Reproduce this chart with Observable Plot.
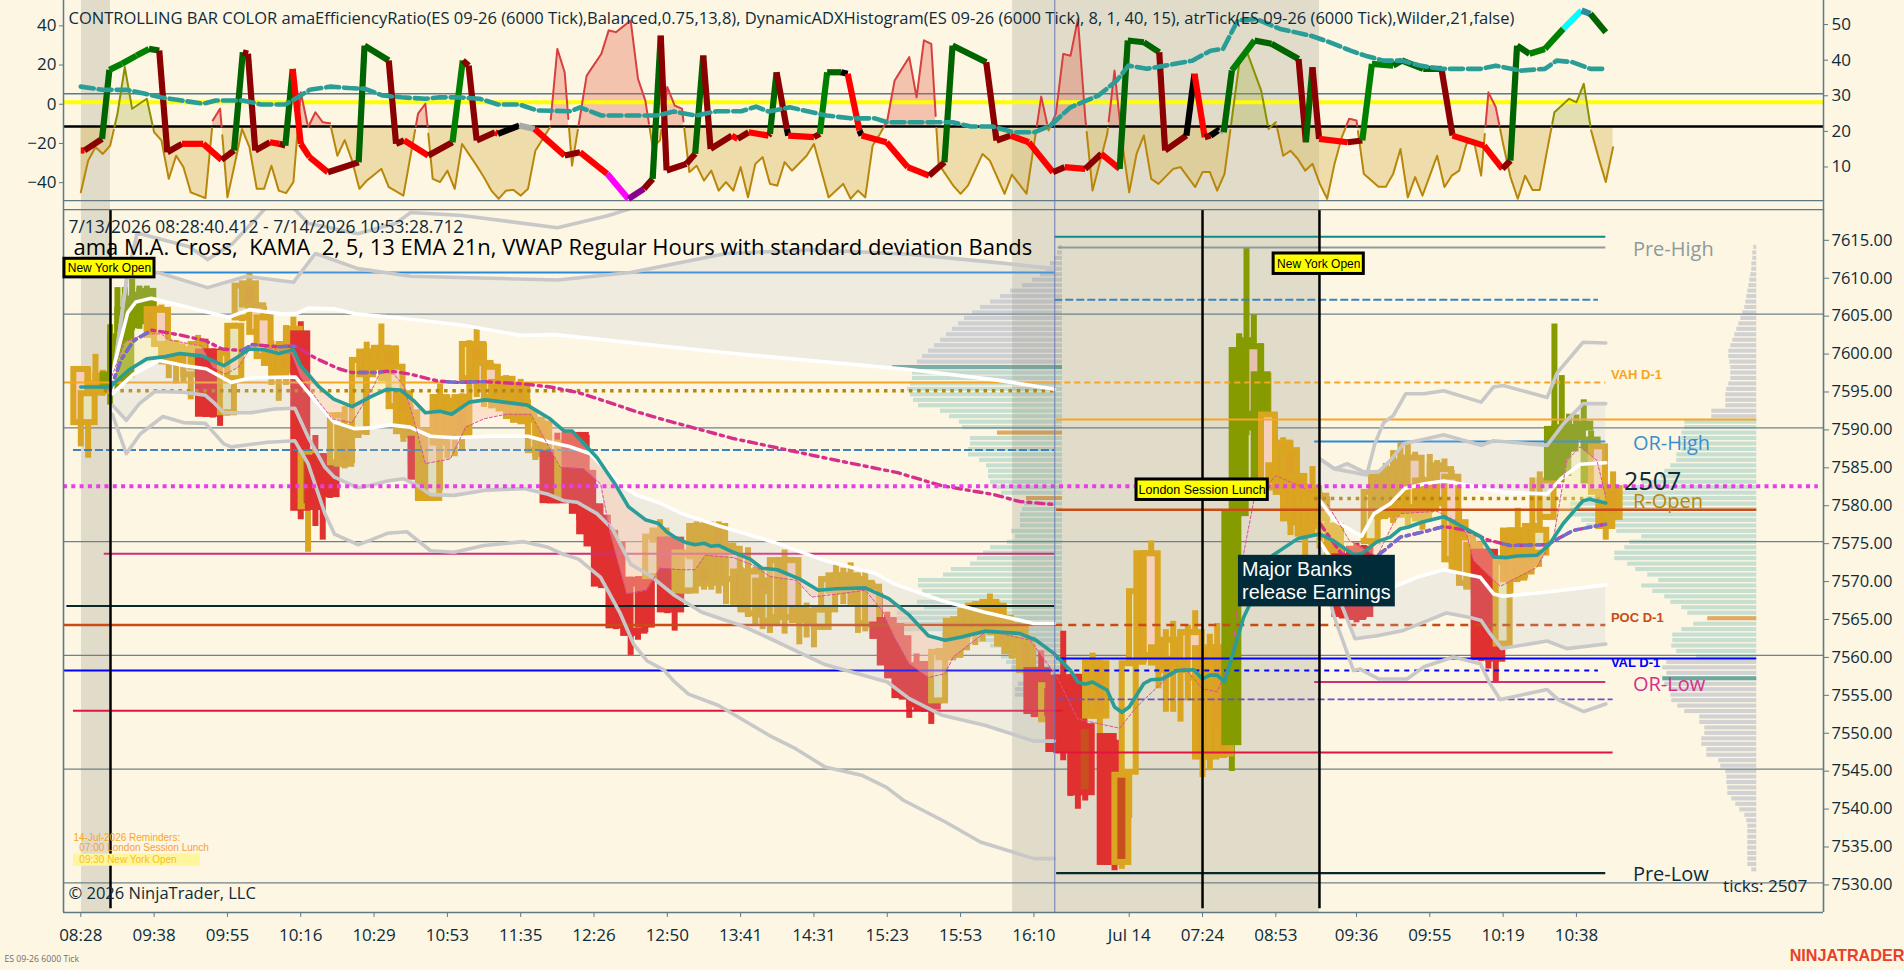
<!DOCTYPE html>
<html><head><meta charset="utf-8">
<script src="https://cdn.jsdelivr.net/npm/d3@7"></script>
<script src="https://cdn.jsdelivr.net/npm/@observablehq/plot@0.6"></script>
<style>html,body{margin:0;padding:0;background:#fdf6e3;overflow:hidden}svg{display:block}</style>
</head><body><div id="top"></div><div id="main"></div>
<script>
// ---------- price bars (by bar index) ----------
const barHigh=[7598.1,7598,7599.7,7597.6,7603.6,7608.5,7608.5,7609.6,7608.7,7608.7,
7606.6,7606.2,7601.7,7601.5,7600.8,7601,7602.2,7601.7,7600.4,7600,
7600.2,7603.8,7609.2,7610.4,7606.5,7606,7601.5,7601,7603.5,7604.6,
7604,7587,7589,7586.6,7585,7592,7592.8,7591,7599.3,7601.3,
7600.8,7603.7,7600.8,7600.8,7595,7593,7588.9,7589.9,7589.5,7595.8,
7594.3,7594,7594.5,7601.5,7603,7601.2,7598.5,7596.5,7596.9,7595.8,
7596.4,7593.7,7591.4,7591,7587,7589.3,7589.3,7589.4,7589.4,7589,
7580,7578.5,7576.5,7575,7570.3,7570.3,7569.8,7571.1,7576.3,7577.9,
7575.6,7575.6,7574,7574.2,7577.6,7577.6,7577.6,7577.6,7574.8,7574.8,
7571.6,7574.2,7571.6,7570.3,7568.8,7572.9,7573.9,7572.9,7566.4,7566.9,
7565.9,7566.4,7570.4,7571.9,7571.5,7572.2,7570.8,7571.2,7569.6,7568.2,
7565.7,7564.2,7562.6,7559,7560.2,7559.2,7559,7560.9,7563.5,7565,
7565.9,7566.2,7567,7567.2,7568.1,7567,7565.3,7564.4,7564,7562.6,
7558.4,7560.6,7556.5,7557.4,7563.2,7557.4,7557.5,7551,7560.3,7559.3,
7549.7,7548.8,7544.6,7559.3,7568.8,7573.8,7575.1,7561.5,7563.4,7564.5,
7563.4,7564,7565.9,7561.3,7562.8,7564.2,7551,7579.1,7602.4,7613.7,
7604.9,7601.1,7597.2,7588,7588.7,7588.3,7584,7582.6,7584.9,7581.5,
7580.9,7577.5,7574,7574,7574.8,7574.5,7581.9,7584.2,7585.3,7587,
7588,7587.9,7586.8,7583.6,7586.5,7585.7,7585.9,7584.4,7579.1,7576.5,
7575,7574,7574,7561.1,7572.7,7576.8,7579.4,7576.9,7583.4,7584.2,
7583.4,7603.7,7596.9,7591.8,7591.7,7593.7,7589.6,7588,7582,7584.2];
const barLow=[7587.5,7586,7594.2,7594.2,7593,7595.8,7596,7602.8,7603,7605.5,
7601.5,7598.4,7596.5,7595.8,7596,7593.7,7595.8,7591.4,7591.3,7590.2,
7591.6,7596,7604,7605.7,7602.2,7599,7595.6,7593.5,7595.6,7599,
7577.9,7573.6,7577,7575.2,7580.7,7584.8,7584.6,7585.3,7589,7589,
7597.5,7597.4,7596,7592.3,7588.1,7585,7580.3,7580.3,7580.3,7581.7,
7585.9,7586.2,7587,7589,7594,7592.7,7592.5,7592.7,7592,7590.7,
7590.7,7586.7,7585.7,7586,7580,7580,7580.7,7580,7577.8,7575.8,
7574.1,7568.9,7568.8,7563.4,7563.4,7560,7562,7563,7570,7575,
7565.5,7563.2,7568,7568.1,7572.4,7568.6,7568.6,7568.1,7566.7,7566.7,
7565.9,7565,7563.9,7563.4,7562.9,7564,7562.8,7564.4,7561.4,7562.3,
7561,7563.3,7563.3,7567.9,7566.7,7568.8,7562.9,7563.1,7562.3,7562,
7558.4,7556.9,7554.3,7551.7,7553.1,7552.5,7550.9,7553.5,7559.3,7559.3,
7559.7,7562.2,7561.3,7561.8,7562.8,7562,7560.9,7559.5,7558.9,7557.6,
7552.1,7551.7,7547.2,7547.1,7546.1,7541.4,7539.7,7540.8,7551.6,7546.1,
7532.3,7531.6,7531.8,7538.5,7558.7,7559,7559.5,7555.6,7552.5,7552.5,
7551.2,7554,7546.6,7543.9,7544.8,7546.6,7546.5,7544.7,7578.3,7589,
7591.4,7582,7581.7,7582,7581,7575.8,7576.9,7573,7576,7574,
7574,7570,7564.8,7565,7564.3,7564.8,7574.5,7577.8,7578.2,7577.4,
7578.2,7576.9,7578.2,7576.5,7578.7,7580.4,7578.2,7572.1,7569.2,7568.8,
7567.9,7559.2,7558.2,7556.5,7561,7568.1,7569.7,7570.1,7571.6,7573,
7577.8,7582,7582.8,7586.8,7588.3,7589.6,7582.6,7580.9,7575.2,7577.8];
const bodyTop=[7597.7,7594.5,7595.8,7596.8,7597,7602,7605.5,7607,7607.5,7608,
7605.6,7605.5,7601,7600.7,7600.3,7600,7601,7600,7600,7597,
7599.8,7603.4,7608.7,7609,7606.1,7604.5,7600.5,7600,7601,7603,
7602.4,7586.6,7586,7586.2,7584.6,7591.6,7590,7590,7598.9,7600,
7600,7600.5,7600.4,7598,7594.5,7592,7588.5,7589.5,7589.2,7594,
7593.5,7593.5,7594,7601,7601,7598.5,7598,7596,7596.4,7595.3,
7595.5,7592,7591,7590.5,7586.6,7586.6,7588,7589,7589,7584,
7579.6,7578.1,7576.1,7574.6,7569.9,7569.9,7569.4,7570,7575.6,7576.4,
7575.2,7575.2,7573.5,7573.3,7577,7577,7576.5,7577,7574.4,7574,
7571,7571,7571,7569.8,7568.4,7572.5,7572.5,7572.5,7566,7565.8,
7565.5,7566,7570,7570.5,7570.5,7570.5,7570,7569.5,7569,7564,
7564.6,7563.8,7562.2,7558.6,7558.6,7558.8,7558.6,7560.4,7560.5,7564.5,
7564.7,7565.8,7566.5,7566.7,7567,7566.5,7564.9,7563.9,7563.5,7562,
7558,7558,7556,7557,7557,7557,7557.1,7550.6,7559,7558.9,
7549.3,7548.4,7544.2,7558.9,7568.4,7573.4,7573.4,7561,7562,7562,
7562,7563,7563,7560.9,7561,7561,7550,7578.7,7600.2,7601.5,
7600.7,7597,7591.7,7585,7588,7587,7583.6,7582,7582,7581,
7577,7577,7573,7573,7574,7574,7581.5,7583.5,7584,7584.5,
7585.5,7586,7586,7583,7583,7585,7584.5,7583.5,7577.5,7575.5,
7574.5,7573.6,7573.6,7560.5,7572.3,7576.4,7576.4,7576.4,7577,7576.5,
7583,7589.8,7590,7590,7590,7590.5,7588.4,7587.5,7581.5,7582];
const bodyBottom=[7590.7,7590.7,7594.6,7594.8,7595.5,7596.2,7597,7603.5,7604,7606,
7602.2,7601,7598.7,7598.7,7598.5,7597,7598,7591.8,7591.8,7592,
7592,7596.5,7604.5,7606.2,7602.6,7599.4,7598.5,7597,7597.5,7600,
7579.4,7579.6,7579.5,7581.5,7581.2,7585.4,7585.2,7589,7589.5,7597,
7598,7598,7596.5,7592.8,7589.5,7589,7583.5,7580.7,7580.7,7588,
7589,7589,7589,7596.5,7597,7595.5,7594,7593,7592.5,7591.5,
7591,7590.8,7587,7586.5,7580.4,7580.4,7581,7580.4,7579,7576.3,
7574.7,7569.4,7569.2,7563.9,7563.9,7562.9,7563.2,7564,7570.4,7575.2,
7566,7566,7568.5,7568.5,7573,7569.4,7572,7569.5,7570,7570,
7567,7566,7565.5,7565.3,7564.5,7565,7565,7565,7564.6,7564.6,
7564.2,7563.7,7566,7568.5,7568.5,7569,7567,7564.2,7564,7562.5,
7559,7557.3,7554.7,7554.5,7553.5,7553,7553.2,7554,7559.7,7560,
7561,7563,7563,7563.5,7563.5,7563,7561.5,7560.5,7560,7558,
7552.6,7552.2,7551.5,7547.6,7548,7547.6,7541.9,7541.9,7552,7552,
7532.7,7532.7,7532.7,7544.6,7559.1,7560,7560,7559,7558,7559.5,
7558,7559,7557,7546.6,7546.6,7546.8,7547,7548.5,7578.7,7590,
7591.8,7583,7582.1,7583,7581.5,7578,7577.5,7576,7577,7578,
7574.5,7571,7565.4,7565.4,7565,7565.4,7575,7578.3,7579,7578.5,
7579,7578.5,7579.5,7578,7579.5,7581,7580,7572.6,7571.5,7569.5,
7569,7559.7,7559.7,7559.5,7561.5,7570,7570.2,7571,7572,7573.5,
7578.2,7583.4,7584,7587.2,7588.7,7590,7583,7581.5,7577,7578.2];
const barKind=("duxxoooooo"+"xdxxxdxrrr"+"uuuxddxxxx"+"ryrrruxxux"+"xxxdxxrxux"+"xxxuxddxxx"+"xxdxrrxrrr"+"rrrrrrerux"+"rrxuxxxxxd"+"xxdxudxdxx"+"xuuxxxxddr"+"rrrrrrruxx"+"xxxxxxxxxx"+"rryrrrrfxx"+"rryuuxdxxu"+"xddxxxxooo"+"nodxxxxxxx"+"dxrrrruxxx"+"xxdxxxddxd"+"xrrruxxxxu"+"uoooooodxx").slice(0,210);

// ---------- overlay series, read as [bar index, price] ----------
const ema=[[0,7595.4],[4,7595.4],[6.5,7597.6],[9,7599.1],[11.5,7599.4],[13.5,7599.8],[16.5,7599.5],[19.5,7598.2],[21,7599.1],[23,7600.4],[25,7600.3],[27,7599.8],[29,7600.3],[30,7598.2],[32.5,7595.4],[34.5,7593.8],[37,7592.8],[39.5,7594.1],[41.8,7595.1],[43.6,7595],[45.4,7593.6],[47,7592],[49,7592.2],[50.6,7591.8],[53,7593.4],[55.2,7593.7],[57.7,7593.4],[60.9,7593],[64,7591.2],[65.9,7589.6],[67,7589.6],[70.4,7586.1],[73,7582.4],[74.7,7579.6],[77,7577.9],[78.8,7577.4],[79.9,7576.3],[81,7575.6],[82.5,7574.9],[83.8,7574.6],[85,7574.8],[85.9,7574.4],[87,7574.5],[89,7573.6],[91.3,7572.7],[92.9,7571.5],[95,7571.3],[98,7570.1],[100.6,7568.6],[103,7568.8],[107,7568.9],[110.2,7567.5],[113,7565.3],[115.6,7562.6],[117.9,7562],[120,7562.4],[123.3,7563.2],[128,7562.9],[130.3,7562],[132.8,7560.2],[135,7558],[136,7556.5],[137,7556.2],[138,7556.5],[140,7555.4],[141,7553.2],[142,7552.5],[143,7553.2],[145,7556.3],[146,7556.8],[147.5,7556.9],[149.5,7558],[151.8,7558.1],[153,7556.9],[154,7557.4],[155,7557.4],[156,7556.5],[157,7559.8],[158.6,7565],[162.6,7573.2],[166,7575.4],[169,7576],[170.9,7575.1],[173.6,7573.3],[174.7,7573.4],[176.8,7575],[178.6,7575.6],[180,7576.7],[181,7576.9],[183,7577.6],[185.9,7578.3],[188.6,7576.9],[190.9,7575.7],[192.7,7573],[194.5,7572.9],[195.9,7573.1],[198.6,7573.2],[200.2,7574.5],[202.2,7577.4],[204.9,7580.4],[205.8,7580.6],[208,7580.1]];
const kama=[[4,7596.2],[6,7601.3],[8.8,7602.4],[11,7602.4],[12,7601.6],[16.5,7600.8],[18,7598],[19.7,7597.1],[21.5,7598],[23.4,7601],[27,7600.2],[28.8,7599.7],[30,7596.7],[32.5,7593.4],[34.3,7591.2],[37,7590.7],[38,7592.3],[40,7595.6],[40.9,7597.5],[42.7,7597.1],[44,7595.6],[45.4,7591.2],[47,7585.3],[50.4,7585.9],[52.5,7590.1],[55,7591.2],[58,7591.8],[61.4,7591.8],[63.1,7588.8],[65.4,7584.8],[68.6,7584.6],[70.9,7582.6],[72.2,7576.2],[74.5,7568.1],[77.2,7568.6],[79,7571.5],[81.8,7571.3],[83.8,7571.3],[85.2,7573.2],[89,7572.9],[91.7,7571.9],[94,7570.4],[97.6,7569.9],[99.7,7567.7],[103.3,7568.1],[107,7568.6],[109.3,7565.9],[111,7562.4],[113,7558.9],[115.6,7557.1],[117.9,7557.6],[119,7559.8],[121,7561.3],[123.3,7563],[125,7563],[129.5,7562],[133,7557.4],[136,7551.6],[141.7,7550.4],[144,7553.2],[148,7556.9],[150.5,7558.4],[153,7555.6],[155,7555.2],[157,7559.8],[158.6,7573.4],[160,7580.4],[163,7583.7],[167,7582],[170,7580],[173,7575.2],[176.8,7573],[179,7577.4],[180,7578.7],[185,7579],[187.8,7577.6],[189,7576],[190,7572.5],[193.6,7569.1],[198.6,7571.6],[200.9,7575.6],[202.7,7585.7],[204.5,7587.5],[206.8,7585.7],[208,7580.9]];
const vwapA=[[4,7595],[5.5,7599],[7.2,7601.5],[9.7,7602.9],[11.5,7602.6],[13.8,7602.2],[17,7601.5],[19.3,7600.4],[22,7600.2],[23.4,7601],[27,7600.7],[29.3,7600.8],[32,7599.2],[35.2,7597.8],[37,7597.3],[40.2,7597.3],[42.2,7597.5],[44.9,7597.1],[48.6,7596.2],[51.3,7596],[55,7596.1],[60.4,7595.8],[64,7595.4],[67.7,7594.7],[71.3,7593.6],[75.9,7592.1],[79.8,7591],[89,7588.6],[101.7,7586],[111.4,7584.1],[117.3,7582.4],[124.6,7581.2],[128,7580.3],[132.8,7579.9]];
const vwapB=[[169,7577.4],[171.8,7573.6],[175,7571.5],[177.2,7573.4],[180,7575.6],[183.2,7576.3],[185.9,7577],[189,7576.5],[192,7575.2],[194.9,7574.5],[200,7574.6],[203.6,7576.5],[208,7577.3]];
const vwapBlueStretches=[[4,9.7],[22,24],[27,29.3],[38,41],[50,55],[177,186],[194,208]];
const upper1A=[[4.3,7595],[4.6,7598.4],[6.4,7605.2],[7.5,7606.6],[9.6,7607.1],[13,7606.3],[16.2,7605.5],[20.2,7604.6],[23,7605.6],[27.6,7605],[29.5,7605.1],[31,7605.8],[34.5,7605.7],[37.7,7605],[42.6,7604.6],[52.4,7603.5],[60,7602.2],[64.6,7602.3],[88,7599.9],[113,7597.7],[125,7596.3],[132.8,7595.1]];
const upper2A=[[4.3,7596],[6.3,7610],[10.5,7610.5],[17.3,7608.5],[22.6,7610],[29,7609.2],[32,7613],[37.8,7611],[45,7610],[65,7609.5],[75,7610.5],[88,7613],[100,7613.5],[113,7612.9],[125,7611.8],[132.8,7611]];
const upper3A=[[4.5,7597],[6.3,7610],[7.7,7615.7],[14.8,7613.9],[17.3,7612.2],[20.7,7614.3],[24.1,7617.8],[27,7621],[31,7617],[37.8,7615.6],[43,7617],[45,7618.4],[52,7618],[65,7616.4],[72,7618],[80,7620.5],[90,7627],[132.8,7626.6]];
const lower1A=[[4.3,7594.5],[7.2,7597.1],[10.7,7598.9],[14.2,7598.2],[17.1,7597.8],[20.5,7596],[23.2,7596.6],[28.6,7596.7],[29.3,7596.7],[32.3,7593.2],[34.5,7590.8],[37.3,7589.9],[39.5,7590],[42.2,7590.4],[44.9,7590.1],[47.7,7588.9],[50.9,7588.7],[55.4,7588.9],[61,7588.9],[64,7588.1],[66.8,7587.5],[69.5,7586.6],[71.3,7584.8],[74,7582.2],[75.9,7581.1],[79,7580.1],[82,7578.7],[87,7577.1],[91.5,7575.8],[94.6,7574.9],[101.5,7572.5],[108.4,7570.8],[111,7569.4],[117.5,7567.2],[123.3,7565.7],[130,7564.2],[132.8,7564.2]];
const lower2A=[[4.3,7593],[6.2,7591],[8,7593.2],[10.1,7594.8],[14,7594.7],[17,7594.3],[18.3,7593.2],[19.5,7592],[23.2,7592],[26.4,7592.5],[29.2,7592.6],[31,7588.8],[33.3,7584.8],[34.6,7583.5],[37.8,7582.1],[39.5,7582.4],[41.8,7583],[44,7583.3],[45.9,7582.4],[47.7,7581.2],[50.9,7581.1],[55.4,7581.8],[60.4,7582],[63.6,7581.3],[65.9,7580.4],[67.7,7580.2],[70.4,7578.7],[72.5,7576.7],[75,7572],[77.7,7570.5],[81,7567.9],[84.7,7565.7],[90.2,7563.9],[94.5,7562],[98.4,7560.2],[101.5,7558.8],[110,7556.5],[113,7554.3],[117.5,7552.1],[123.3,7550.8],[130,7548.7],[132.8,7548.7]];
const lower3A=[[4.3,7591.8],[6.2,7586.6],[8.1,7589.2],[11.2,7591.5],[14,7590.7],[17,7590.6],[19.5,7587.9],[20.5,7587.5],[25.5,7588.1],[29.2,7588.3],[31,7585.3],[33.3,7578.7],[34.6,7576],[37.8,7574.6],[39.5,7575.2],[41.8,7576.1],[44.5,7576.3],[47.7,7573.8],[50.9,7573.6],[55,7574.5],[60.4,7575],[63.6,7574.3],[65.9,7573.3],[67.9,7572.7],[70.9,7570.3],[73.6,7565.5],[75.4,7561.5],[77.2,7559.3],[79.5,7558.1],[81,7556.5],[82.9,7554.9],[87,7553.4],[94,7549.4],[97.5,7547.7],[101.5,7545.3],[106.5,7544.2],[109.9,7542.6],[112.2,7540.9],[118,7538],[122.7,7535.4],[130,7533.2],[132.8,7533.2]];
const upper1B=[[169,7580.4],[171,7577.8],[174.7,7575.7],[176.4,7578.7],[178.6,7580],[180.6,7582],[183.1,7582.6],[185.9,7583],[189.5,7582.4],[194,7581.5],[200,7581.3],[201.9,7583.3],[204.5,7585.2],[208,7585.4]];
const upper2B=[[169,7585.9],[171,7584.6],[172.7,7585.3],[175,7584.2],[177,7584.2],[178.6,7585.7],[180.4,7587.9],[183.2,7588.5],[185.9,7589.1],[191,7587.7],[192.7,7588.3],[200,7587.7],[202.2,7590.5],[204.9,7593.2],[208,7593.2]];
const upper3B=[[169,7585.9],[171,7584.6],[175.4,7583.8],[176.5,7587.9],[177.7,7590.7],[179,7591.6],[180.7,7594.5],[183.2,7594.5],[185.9,7594.9],[191,7593.4],[192.7,7595.4],[194,7595.6],[200,7594],[201.4,7597.3],[204.9,7601.3],[208,7601.2]];
const lower1B=[[169,7575],[171.3,7571.6],[175,7567.5],[178.6,7568.8],[182.2,7570.3],[185.9,7571.3],[190.9,7570.3],[192.7,7568.1],[194,7567.8],[199.5,7568.3],[208,7569.3]];
const lower2B=[[169,7574],[171,7569],[173.8,7562.2],[176.8,7562.6],[180.4,7563.3],[186.3,7565.6],[189.5,7565],[191,7564.6],[192.2,7562.9],[193.8,7560.9],[200,7561.9],[202.7,7560.9],[208,7561.5]];
const lower3B=[[169,7572],[171,7565],[173.6,7558],[174.5,7558.2],[177,7556.9],[180.9,7556.9],[183.2,7558.5],[187.2,7559.8],[190.9,7558.9],[192.2,7556.3],[193.6,7554.2],[200,7555.5],[201.6,7554.1],[205,7552.6],[208,7553.6]];

// ---------- volume profiles: first row price, row step, volume per row (top to bottom) ----------
const profileTopPrice=7613.8, profileStep=0.72;
const profileSession1=[3,5,8,12,16,22,30,40,52,62,72,82,90,98,104,110,116,122,128,134,140,145,170,150,150,152,155,152,149,144,122,113,103,100,65,92,92,94,94,83,76,74,74,72,65,61,36,38,40,42,42,42,51,47,55,72,79,85,92,111,119,144,144,140,131,145,138,165,165,165,165,120,86,72,61,61,56,51,40,36,44,47,47,36,29,20];
const profileSession2=[3,4,4,5,5,6,7,8,9,10,11,12,14,16,18,20,22,24,26,28,28,27,26,26,26,28,30,31,31,31,45,45,72,72,75,75,78,75,80,80,86,92,96,115,125,148,170,186,186,186,175,170,140,115,127,132,142,142,129,121,109,98,115,104,92,86,75,69,49,63,75,84,84,85,80,60,90,94,90,94,92,88,86,85,79,72,57,57,52,52,55,55,50,50,38,36,31,30,30,29,29,25,21,17,12,10,9,9,9,9,9,9,9,9,5];
const pocRows1=[34,46], tealRows1=[22], pocRows2=[68], tealRows2=[79];

// ---------- top panel ----------
const adx=[[0,2.3],[1,11.2],[2,15],[3,13.1],[4,15.4],[5,24.4],[6,37.5],[7,25.8],[9,28.6],[10,19.2],[11,16.9],[12,6.1],[13,12.6],[14,9.4],[15,2.3],[17,.7],[18,22.5],[19,25.8],[20,.9],[21,10.3],[22,20.1],[23,15],[24,3.3],[25,3.3],[26,9.8],[27,2.8],[28,2.1],[29,5.2],[30,30.4],[31,20.6],[32,24.8],[33,22],[34,21.7],[35,12.6],[36,17],[37,11.2],[38,3.3],[39,5.6],[41,8.9],[42,3.8],[44,1.4],[46,24.4],[47,27.2],[48,6.1],[49,5.2],[50,8.4],[51,3.3],[52,15.9],[54,9.8],[55,6.5],[56,2.8],[57,.5],[58,2.8],[59,3],[60,1.4],[61,3.3],[62,14],[64,20.6],[65,42.6],[66,36],[67,9.8],[69,35.1],[71,41.2],[72,47.8],[73,47.3],[75,50.6],[76,34.2],[77,28.1],[78,15],[79,16.9],[80,31.9],[81,26.7],[82,25.8],[83,8],[84,9.8],[85,5.6],[86,8.4],[87,2.8],[88,5.2],[89,2.8],[90,9.4],[91,.9],[92,10.3],[93,12.2],[94,4.7],[95,4.2],[96,10.8],[97,8.4],[99,12.6],[100,15.9],[102,.9],[104,4.7],[105,.5],[106,2.8],[107,.9],[108,15.4],[109,18.7],[110,22.5],[111,33.7],[113,40.3],[114,29],[115,45],[116,44],[117,10.3],[119,4.2],[120,1.9],[121,4.2],[123,13.1],[124,11.2],[126,1.9],[127,7.3],[129,1.9],[131,29.2],[132,19.7],[133,24.4],[134,41.2],[135,40.7],[136,51],[137,23.4],[138,2.8],[140,18.7],[141,36.5],[142,16.9],[143,2.3],[144,13.1],[145,18.3],[146,6.1],[147,4.7],[149,8.9],[150,9.4],[152,3.8],[153,8],[154,8],[155,2.8],[156,7.5],[158,38.4],[159,42.1],[161,30.9],[162,20.1],[163,22],[164,12.6],[165,14],[166,11.7],[167,8.4],[168,10.3],[169,4.7],[170,.5],[171,10.3],[172,17.8],[173,23],[174,22.5],[175,7.5],[177,3.9],[178,3.9],[179,7.5],[180,14.5],[181,.9],[182,6.6],[183,1.4],[185,12.6],[186,3.8],[187,7],[188,8.4],[189,15.9],[190,16.9],[191,7],[192,30.4],[193,26.2],[194,15.9],[195,6.6],[196,.5],[197,7],[198,3],[199,3],[200,14.1],[201,24.8],[203,28.6],[204,27.6],[205,32.8],[206,19.7],[207,12.2],[208,5.2],[209,15]];
const adxBase=20.8;
const atr=[[0,32],[3,31.1],[6.3,31.1],[8.8,30],[10.9,29],[13.8,28.1],[16.7,27.2],[18.4,28.1],[22.1,28.1],[24.6,27],[27.9,27],[29.6,29],[31.2,31.1],[34.1,32],[36.6,31.6],[38.7,31.4],[41.2,29.5],[43.7,29],[47,28.6],[49,29],[51.5,29],[54.4,28.6],[56.9,27],[59.8,27],[62.3,25.3],[66.8,25.1],[68.1,26.2],[71,23.9],[78.5,23.9],[80.9,25],[83.9,23.9],[86.8,25.1],[90.1,25.1],[92.1,26.4],[93.8,25],[96.7,26.2],[101.7,23.9],[105,23.1],[108.3,23.1],[110,22],[118.9,22],[121.4,20.8],[124.3,20.8],[127.2,19.2],[130.1,19.2],[132.2,21],[135,26.2],[138.8,29.5],[141.3,33.7],[142.9,37.9],[145.4,37],[147.9,37.9],[151.6,39.3],[154.1,42.1],[155.8,42.6],[157.8,50.6],[160.3,51],[163.6,48.2],[167.8,46.3],[170.3,44.5],[173.2,42.1],[175.2,40.7],[177.7,39.3],[180.2,39.3],[182.7,37.9],[185.6,37],[188.5,37],[191,37],[193,37.9],[196.4,36.5],[199.7,37],[201.3,39.3],[203.4,38.9],[205.9,37],[207.6,37]];
// efficiency ratio: bar index, value, state letter of the stretch that ends at the point
const erPoints=[[0,-24.6,"R"],[.5,-24.6,"R"],[2.9,-18.7,"D"],[3.9,16.5,"G"],[5.6,19.6,"L"],[7.6,23.8,"L"],[9.3,27.2,"L"],[10.7,26.4,"G"],[11.8,-25.5,"D"],[13.8,-21.2,"D"],[16.7,-21.2,"R"],[19.2,-29.4,"R"],[20.9,-24.6,"D"],[22.1,25.5,"G"],[22.8,24.7,"D"],[23.8,-24.6,"D"],[25.8,-20.4,"D"],[27.1,-21.2,"R"],[27.9,-22.1,"D"],[28.9,17,"G"],[30,-21.2,"R"],[31.2,-28,"R"],[33.7,-35.7,"R"],[37.9,-30.6,"D"],[38.7,28.9,"G"],[42,21.3,"G"],[43,-21.2,"D"],[44.1,-19.5,"D"],[47.4,-27.2,"R"],[50.7,-20.4,"D"],[52.1,21.3,"L"],[52.9,18.7,"D"],[54,-19.5,"D"],[56.5,-15.3,"D"],[56.9,-16.1,"R"],[59.8,-11.9,"K"],[61.9,-13.6,"A"],[66,-27.2,"R"],[68.1,-25.5,"D"],[71.8,-36.5,"R"],[74.7,-49.3,"M"],[76.8,-44.2,"P"],[78,-39.1,"D"],[79.1,34,"G"],[79.9,-34.8,"D"],[82.6,-31.4,"D"],[83.8,-26.3,"D"],[84.9,23.8,"G"],[85.9,-23.8,"D"],[88.8,-17,"D"],[89.6,-18.7,"R"],[91.1,-15.3,"D"],[93.8,-17,"R"],[94,-16.1,"D"],[94.9,15.3,"G"],[96.3,-13.6,"D"],[96.5,-17,"K"],[100,-17.8,"R"],[100.8,-16.1,"D"],[101.8,15.3,"L"],[103.7,15.3,"G"],[104.6,14.5,"K"],[106.2,-14.4,"R"],[106.5,-17,"K"],[109.9,-20.4,"R"],[112.8,-33.1,"R"],[115.7,-37.4,"R"],[117.8,-30.6,"D"],[118.9,28.9,"G"],[123.5,20.4,"G"],[124.9,-19.5,"D"],[126.8,-17,"D"],[129.3,-20.4,"R"],[132.6,-35.7,"R"],[134.2,-33.1,"D"],[137,-34,"R"],[139.2,-26.3,"D"],[141.7,-34,"R"],[142.8,31.5,"G"],[145,30.6,"G"],[147.1,25.5,"G"],[147.9,-24.6,"D"],[150.8,-17,"D"],[151.9,14.5,"K"],[153.3,-17.8,"R"],[154.1,-17,"D"],[155.4,-13.6,"K"],[155.9,-15.3,"A"],[157,16.2,"G"],[160.1,31.5,"L"],[162.4,29.8,"G"],[166.1,22.1,"G"],[167.1,-20.4,"D"],[168,17.9,"G"],[168.9,-18.7,"D"],[172.8,-20.4,"R"],[174.8,-19.5,"D"],[176.1,19.6,"L"],[179,18.7,"L"],[180.2,21.3,"G"],[183.1,17,"G"],[185.6,17,"G"],[187.1,-17,"D"],[191.4,-22.1,"R"],[193.9,-34,"R"],[195,-29.7,"D"],[195.9,28.9,"G"],[197.6,24.7,"G"],[199.7,27.2,"L"],[202.2,37.4,"L"],[204.7,46.8,"C"],[205.9,45.1,"T"],[208,35.7,"G"]];

// ---------- axes and text ----------
const timeTickBars=[0,10,20,30,40,50,60,70,80,90,100,110,120,130,143,153,163,174,184,194,204];
const timeTickLabels=["08:28","09:38","09:55","10:16","10:29","10:53","11:35","12:26","12:50","13:41","14:31","15:23","15:53","16:10","Jul 14","07:24","08:53","09:36","09:55","10:19","10:38"];
const priceTicks=d3.range(7530,7616,5), gridPrices=[7605,7590,7575,7560,7545,7530];
const erTicks=[-40,-20,0,20,40], adxTicks=[10,20,30,40,50], adxGrid=[0,30];
const shadeSpans=[[.1,4.05],[127.1,168.95]];
const blackVerticals=[4.05,153,168.95], sessionBreak=132.85;
const xDomain=[-2.36,237.7], priceDomain=[7526.1,7618.8], erDomain=[-54.7,51.9];

const FONT='"Open Sans",sans-serif', ARIAL='"Liberation Sans",sans-serif';
const FRAME="#5f7a85", INK="#0d2b3a";
const GOLD="#daa520",RED="#e03030",OLIVE="#859b00";
const adxToEr=v=>1.816*v-50.15;
const at=(s,i)=>{ if(i<s[0][0]||i>s[s.length-1][0])return NaN; let k=1; while(s[k][0]<i)k++; const [a,b]=[s[k-1],s[k]]; return a[1]+(b[1]-a[1])*(i-a[0])/(b[0]-a[0]); };
const rowsOf=(s)=>s.map(([i,v])=>({i,v}));
const stepThrough=(a,b,st)=>d3.range(a,b+st/2,st);

// ===== TOP PANEL =====
const adxFine=stepThrough(0,209,.1).map(i=>({i,v:at(adx,i)}));
const isOlive=i=>(i>=4&&i<=10)||(i>=156&&i<=163)||(i>=200&&i<=207);
const erColors={R:"#ff0000",D:"#8b0000",G:"#006400",L:"#008000",K:"#000000",A:"#a9a9a9",M:"#ff00ff",P:"#8b008b",C:"#00ffff",T:"#2e8b9a"};
const erRows=erPoints.map(([i,v,s])=>({i,v,s}));
const topPlot=Plot.plot({width:1904,height:209,marginLeft:63,marginRight:81,marginTop:0,marginBottom:0,
 x:{domain:xDomain,axis:null},y:{domain:erDomain,axis:null},
 style:{background:"transparent",fontFamily:FONT,fontSize:"17px",color:INK},
 marks:[
  Plot.rect(shadeSpans,{x1:d=>d[0],x2:d=>d[1],y1:erDomain[0],y2:erDomain[1],fill:"rgb(110,120,100)",fillOpacity:.2}),
  Plot.ruleY(adxGrid.map(adxToEr),{stroke:FRAME,strokeWidth:1.3}),
  Plot.areaY(adxFine,{x:"i",y1:adxToEr(adxBase),y2:d=>d.v<adxBase?adxToEr(d.v):NaN,fill:"#d9b95c",fillOpacity:.42}),
  Plot.areaY(adxFine,{x:"i",y1:adxToEr(adxBase),y2:d=>d.v>=adxBase&&!isOlive(d.i)?adxToEr(d.v):NaN,fill:"#e0604a",fillOpacity:.34}),
  Plot.areaY(adxFine,{x:"i",y1:adxToEr(adxBase),y2:d=>d.v>=adxBase&&isOlive(d.i)?adxToEr(d.v):NaN,fill:"#a6ab3a",fillOpacity:.3}),
  Plot.ruleY([0],{stroke:"#ffff00",strokeWidth:4}),
  Plot.ruleY([adxToEr(adxBase)],{stroke:"#000",strokeWidth:2.4}),
  Plot.line(adxFine,{x:"i",y:d=>d.v<adxBase?adxToEr(d.v):NaN,stroke:"#b8860b",strokeWidth:2}),
  Plot.line(adxFine,{x:"i",y:d=>d.v>=adxBase&&!isOlive(d.i)?adxToEr(d.v):NaN,stroke:"#d84040",strokeWidth:2}),
  Plot.line(adxFine,{x:"i",y:d=>d.v>=adxBase&&isOlive(d.i)?adxToEr(d.v):NaN,stroke:"#8c9000",strokeWidth:2}),
  Plot.ruleX([sessionBreak],{stroke:"#6a7ab8",strokeWidth:1}),
  Plot.link(d3.pairs(erRows),{x1:d=>d[0].i,y1:d=>d[0].v,x2:d=>d[1].i,y2:d=>d[1].v,stroke:d=>erColors[d[1].s],strokeWidth:6.2,strokeLinecap:"butt"}),
  Plot.line(rowsOf(atr),{x:"i",y:d=>adxToEr(d.v),stroke:"#2a9d96",strokeWidth:4.6,strokeDasharray:"13,5"}),
  Plot.ruleX([xDomain[0],xDomain[1]],{stroke:FRAME,strokeWidth:1.5}),
  Plot.axisY({anchor:"left",ticks:erTicks,tickSize:4,tickPadding:3,stroke:FRAME,fill:INK,fontSize:17,label:null,dy:2}),
  Plot.axisY({anchor:"right",ticks:adxTicks.map(adxToEr),tickFormat:v=>String(Math.round((v+50.15)/1.816)),tickSize:4,tickPadding:4,stroke:FRAME,fill:INK,fontSize:17,label:null,dy:2}),
  Plot.text(["CONTROLLING BAR COLOR amaEfficiencyRatio(ES 09-26 (6000 Tick),Balanced,0.75,13,8), DynamicADXHistogram(ES 09-26 (6000 Tick), 8, 1, 40, 15), atrTick(ES 09-26 (6000 Tick),Wilder,21,false)"],{x:-1.68,y:42.7,textAnchor:"start",fontSize:16.5,fill:INK})
 ]});
document.getElementById("top").append(topPlot);

// ===== MAIN PANEL =====
const bars=barHigh.map((h,i)=>({i,h,l:barLow[i],t:bodyTop[i],b:bodyBottom[i],k:barKind[i]}));
const strokeOf={u:GOLD,d:GOLD,x:GOLD,y:GOLD,r:RED,f:RED,e:RED,o:OLIVE,n:OLIVE};
const fillOf={u:"#e8e4b8",d:"#f7d0bc",x:"#dd9f24",y:"#c8501e",r:RED,f:"#c8501e",e:"#e8e4b8",o:OLIVE,n:"#e8c0b0"};
const profileRows=(vols,pocs,teals,base,vaHigh,vaLow)=>vols.map((v,n)=>{const p=profileTopPrice-n*profileStep;return {n,p,v,base,c:pocs.includes(n)?"#e0a860":teals.includes(n)?"#6aa89e":(p<=vaHigh&&p>=vaLow)?"#c7dfd0":"#d2d2d2"};});
const prof=[...profileRows(profileSession1,pocRows1,tealRows1,133.9,7598.5,7557),...profileRows(profileSession2,pocRows2,tealRows2,228.6,7591,7559.6)];
const VOL_BARS=1/7.33;
const band=(a,b,fill,st=.25)=>Plot.areaY(stepThrough(a[0][0],a[a.length-1][0],st).map(i=>({i,a:at(a,i),b:at(b,i)})),{x:"i",y1:"a",y2:"b",fill,fillOpacity:.2,clip:true});
const ribbon=(from,to)=>{const rows=stepThrough(from,to,.1).map(i=>({i,k:at(kama,i),e:at(ema,i)}));return [
  Plot.areaY(rows,{x:"i",y1:d=>d.k,y2:d=>d.k>=d.e?d.e:NaN,fill:"#efe8a8",fillOpacity:.4}),
  Plot.areaY(rows,{x:"i",y1:d=>d.k,y2:d=>d.k<d.e?d.e:NaN,fill:"#f8c0a8",fillOpacity:.42})];};
const hl=(p,a,b,stroke,w,dash)=>Plot.ruleY([p],{x1:a,x2:b,stroke,strokeWidth:w,strokeDasharray:dash});
const gline=(s)=>Plot.line(rowsOf(s),{x:"i",y:"v",stroke:"#c8c8c8",strokeWidth:3.6,clip:true});
const wline=(s)=>Plot.line(rowsOf(s),{x:"i",y:"v",stroke:"#ffffff",strokeWidth:3.6,clip:true});
const blueRows=s=>vwapBlueStretches.map(([a,b])=>stepThrough(Math.max(a,s[0][0]),Math.min(b,s[s.length-1][0]),.5).map(i=>({i,v:at(s,i),g:a}))).flat().filter(d=>!isNaN(d.v));
const boxed=(label,a,b,top,bot,size)=>[
  Plot.rect([0],{x1:a,x2:b,y1:bot,y2:top,fill:"#ffff00",stroke:"#000",strokeWidth:3}),
  Plot.text([label],{x:(a+b)/2,y:(top+bot)/2,fontFamily:ARIAL,fontSize:size,fill:"#000",dy:.5})];
const label=(t,i,p,fill,size,extra={})=>Plot.text([t],{x:i,y:p,text:d=>d,textAnchor:"start",fill,fontSize:size,...extra});

const mainPlot=Plot.plot({width:1904,height:761,marginLeft:63,marginRight:81,marginTop:0,marginBottom:58,
 x:{domain:xDomain,axis:null},y:{domain:priceDomain,axis:null},
 style:{background:"transparent",fontFamily:FONT,fontSize:"17px",color:INK},
 marks:[
  // profiles sit under the session shading
  Plot.rect(prof,{x1:d=>d.base-d.v*VOL_BARS,x2:"base",y1:d=>d.p-.27,y2:d=>d.p+.27,fill:"c"}),
  Plot.rect(shadeSpans,{x1:d=>d[0],x2:d=>d[1],y1:priceDomain[0],y2:priceDomain[1],fill:"rgb(110,120,100)",fillOpacity:.2}),
  Plot.ruleY(gridPrices,{stroke:"#6f8187",strokeWidth:1.3}),
  // bars
  Plot.ruleX(bars,{x:"i",y1:"l",y2:"h",stroke:d=>strokeOf[d.k],strokeWidth:6}),
  Plot.rect(bars,{x1:d=>d.i-.955,x2:d=>d.i+.955,y1:"b",y2:"t",fill:d=>fillOf[d.k],stroke:d=>strokeOf[d.k],strokeWidth:6}),
  // levels
  hl(7615.2,132.85,208,"#0d8a8a",2), hl(7613.8,133.3,208,"#8f9a9a",2),
  hl(7610.5,4.05,132.85,"#2b8ad6",2), hl(7606.9,132.85,207,"#3f82b8",2,"8,3"),
  hl(7596,-2.36,132.85,"#f5a623",2), hl(7596,132.85,208,"#f5a623",2,"6,4"),
  hl(7594.9,3.2,132.85,"#b8860b",3.5,"3.5,4.8"), hl(7587.1,-1,132.85,"#3f82b8",2,"8,3"),
  hl(7591.1,133.1,228.6,"#f5a623",2), hl(7588.2,168.3,208,"#2b8ad6",2),
  hl(7580.7,168.3,208,"#b8860b",3.5,"3.5,4.8"),
  hl(7579.2,133.1,228.6,"#c84c14",2.5), hl(7573.4,3.2,132.85,"#cf2f7a",2),
  hl(7566.5,-1.9,132.85,"#062a2a",2), hl(7564,-2.36,132.85,"#c84c14",2.5),
  hl(7564,132.85,208,"#c84c14",2.5,"8,6"),
  hl(7558,-2.36,132.85,"#0000ff",2), hl(7558,132.85,207,"#0000ff",2,"5,5"),
  hl(7559.6,133.1,228.6,"#0000ff",2), hl(7552.7,-1,134,"#e0163f",2),
  hl(7547.2,133,209,"#e0163f",2), hl(7556.5,168.3,208,"#cf2f7a",2),
  hl(7554.2,133.3,209,"#6f50c8",1.8,"7,3"), hl(7531.3,133.1,208,"#062a2a",2.2),
  // session bands
  band(upper1A,upper2A,"rgb(190,195,209)"), band(lower1A,lower2A,"rgb(190,195,209)"),
  band(upper1B,upper2B,"rgb(190,195,209)"), band(lower1B,lower2B,"rgb(190,195,209)"),
  ...ribbon(4,132.8), ...ribbon(169,208),
  gline(upper3A),gline(upper2A),gline(lower2A),gline(lower3A),
  gline(upper3B),gline(upper2B),gline(lower2B),gline(lower3B),
  wline(upper1A),wline(lower1A),wline(upper1B),wline(lower1B),
  Plot.line(rowsOf(kama),{x:"i",y:"v",z:d=>d.i<169?"a":"b",stroke:"#d8529a",strokeWidth:1,strokeDasharray:"3,2"}),
  Plot.line(rowsOf(vwapA),{x:"i",y:"v",stroke:"#d6308a",strokeWidth:3.4,strokeDasharray:"8,5,3,5"}),
  Plot.line(rowsOf(vwapB),{x:"i",y:"v",stroke:"#d6308a",strokeWidth:3.4,strokeDasharray:"8,5,3,5"}),
  Plot.line(blueRows(vwapA),{x:"i",y:"v",z:"g",stroke:"#6f6fd0",strokeWidth:3.4,strokeDasharray:"8,5,3,5"}),
  Plot.line(blueRows(vwapB),{x:"i",y:"v",z:"g",stroke:"#6f6fd0",strokeWidth:3.4,strokeDasharray:"8,5,3,5"}),
  Plot.line(rowsOf(ema),{x:"i",y:"v",stroke:"#2a9d96",strokeWidth:3.6}),
  hl(7582.3,-2.36,237,"#e83ee8",4,"4,4.3"),
  // verticals and frame
  Plot.ruleX([sessionBreak],{stroke:"#6a7ab8",strokeWidth:1}),
  Plot.ruleX(blackVerticals,{y1:7526.6,y2:priceDomain[1],stroke:"#000",strokeWidth:2.5}),
  Plot.ruleX(xDomain,{stroke:FRAME,strokeWidth:1.6}),
  Plot.ruleY(priceDomain,{stroke:FRAME,strokeWidth:1.6}),
  // axes
  Plot.axisX({anchor:"bottom",ticks:timeTickBars,tickFormat:i=>timeTickLabels[timeTickBars.indexOf(i)],tickSize:5,tickPadding:11,stroke:FRAME,fill:INK,fontSize:17,label:null}),
  Plot.axisY({anchor:"right",ticks:priceTicks,tickFormat:d=>d.toFixed(2),tickSize:5,tickPadding:3,stroke:FRAME,fill:INK,fontSize:16.5,label:null,dy:2}),
  // annotations
  ...boxed("New York Open",-2.23,10.05,7612.3,7609.85,12),
  ...boxed("New York Open",162.7,175,7613,7610.3,12),
  ...boxed("London Session Lunch",144,161.9,7583.2,7580.5,12.5),
  Plot.rect([0],{x1:157.9,x2:179.3,y1:7566.4,y2:7573.2,fill:"#022b3a"}),
  label("Major Banks",158.4,7571.3,"#ffffff",19.8,{fontFamily:ARIAL}),
  label("release Earnings",158.4,7568.3,"#ffffff",19.8,{fontFamily:ARIAL}),
  label("7/13/2026 08:28:40.412 - 7/14/2026 10:53:28.712",-1.68,7616.5,INK,17.4),
  label("ama M.A. Cross,  KAMA  2, 5, 13 EMA 21n, VWAP Regular Hours with standard deviation Bands",-1,7613.7,"#000",22,{style:"white-space:pre"}),
  label("© 2026 NinjaTrader, LLC",-1.68,7528.6,INK,16.5),
  Plot.rect([0],{x1:-1,x2:16.3,y1:7532.2,y2:7533.8,fill:"#fff59d"}),
  label("14-Jul-2026 Reminders:",-1,7536,"#f7a823",10,{fontFamily:ARIAL}),
  label("07:00 London Session Lunch",-.2,7534.6,"#f7a040",10,{fontFamily:ARIAL}),
  label("09:30 New York Open",-.2,7533,"#f7c020",10,{fontFamily:ARIAL}),
  label("Pre-High",211.7,7613.5,"#8f9a9a",20),
  label("OR-High",211.7,7587.9,"#3a8ed0",20),
  label("2507",210.5,7582.9,INK,25),
  label("R-Open",211.7,7580.3,"#b8860b",20),
  label("OR-Low",211.7,7556.2,"#d6308a",20),
  label("Pre-Low",211.7,7531.1,INK,20),
  label("VAH D-1",208.7,7597,"#f5a623",13,{fontFamily:ARIAL,fontWeight:"bold"}),
  label("POC D-1",208.7,7565,"#c84c14",13,{fontFamily:ARIAL,fontWeight:"bold"}),
  label("VAL D-1",208.7,7559,"#0000ff",13,{fontFamily:ARIAL,fontWeight:"bold"}),
  label("ticks: 2507",224,7529.5,INK,17.2),
  Plot.text(["ES 09-26 6000 Tick"],{frameAnchor:"bottom-left",dx:-59,dy:49,textAnchor:"start",fontSize:8.7,fill:"#6f6f6f"}),
  Plot.text(["NINJATRADER"],{frameAnchor:"bottom-right",dx:81,dy:48,textAnchor:"end",fontSize:16.2,fontWeight:"bold",fontFamily:ARIAL,fill:"#e8402a"})
 ]});
document.getElementById("main").append(mainPlot);
</script></body></html>
